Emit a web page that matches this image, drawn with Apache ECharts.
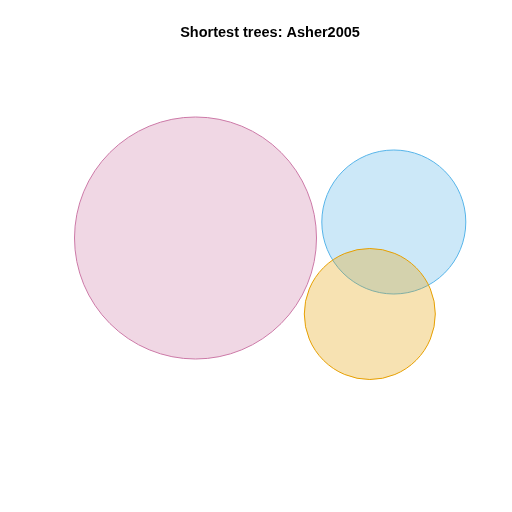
<!DOCTYPE html>
<html>
<head>
<meta charset="utf-8">
<script src="https://cdn.jsdelivr.net/npm/echarts@6/dist/echarts.min.js"></script>
<style>
  html, body { margin: 0; padding: 0; background: #fff; }
  #chart { width: 512px; height: 512px; }
</style>
</head>
<body>
<div id="chart"></div>
<script>
// sets of the Euler diagram, in plot units (x to the right, y upward)
const setNames = ['A', 'B', 'C'];
const centerX = [195.5, 393.8, 369.8];
const centerY = [274, 290, 198];
const radii = [121, 72, 65.5];
const colours = ['#CC79A7', '#56B4E9', '#E69F00'];

const chart = echarts.init(document.getElementById('chart'));

const circles = setNames.map((name, i) => ({
    name: name,
    value: [centerX[i], centerY[i], radii[i]],
    itemStyle: { color: colours[i] }
}));

const option = {
    animation: false,
    title: {
        text: 'Shortest trees: Asher2005',
        left: 265,
        textAlign: 'center',
        top: 20,
        textStyle: {
            fontFamily: 'Liberation Sans',
            fontWeight: 'bold',
            fontSize: 14.5,
            color: '#000'
        }
    },
    grid: { left: 0, right: 0, top: 0, bottom: 0 },
    xAxis: { type: 'value', min: 0, max: 512, show: false },
    yAxis: { type: 'value', min: 0, max: 512, show: false },
    series: [{
        type: 'custom',
        data: circles,
        renderItem: function (params, api) {
            const c = api.coord([api.value(0), api.value(1)]);
            const r = api.size([api.value(2), api.value(2)])[0];
            const col = colours[params.dataIndex];
            return {
                type: 'circle',
                shape: { cx: c[0], cy: c[1], r: r },
                style: {
                    fill: echarts.color.modifyAlpha(col, 0.3),
                    stroke: col,
                    lineWidth: 1
                }
            };
        }
    }]
};

chart.setOption(option);
</script>
</body>
</html>
